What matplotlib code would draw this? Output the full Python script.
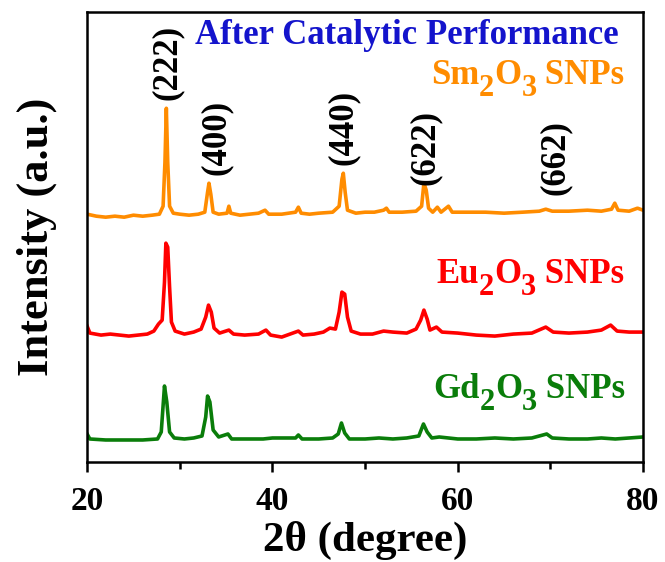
import matplotlib
matplotlib.use("Agg")
import matplotlib.pyplot as plt
from matplotlib.ticker import MultipleLocator

plt.rcParams["font.family"] = ["Liberation Serif", "DejaVu Serif"]
plt.rcParams["font.weight"] = "bold"

# 2theta / intensity (a.u.), curves already offset
sm_x = [20.0, 21.0, 22.0, 23.0, 24.0, 25.0, 26.0, 27.0, 27.8, 28.2, 28.4, 28.55, 28.7, 28.9, 29.3,
        30.0, 31.0, 32.0, 32.7, 33.0, 33.15, 33.35, 33.6, 34.2, 35.1, 35.3, 35.5, 36.5, 37.5,
        38.5, 39.2, 39.6, 41.0, 42.5, 42.8, 43.1, 44.0, 45.0, 46.5, 47.2, 47.5, 47.65, 47.85,
        48.1, 49.0, 50.0, 51.0, 52.0, 52.3, 52.6, 54.0, 55.5, 56.1, 56.35, 56.6, 56.85, 57.3,
        57.8, 58.2, 59.0, 59.4, 61.0, 63.0, 65.0, 67.0, 68.8, 69.5, 70.2, 72.0, 74.0, 75.5,
        76.6, 76.95, 77.3, 78.5, 79.4, 80.0]
sm_y = [248, 246, 245, 246, 245, 247, 246, 247, 248, 256, 300, 354, 300, 256, 249,
        248, 247, 248, 250, 270, 279, 268, 250, 248, 249, 256, 249, 247, 248,
        249, 252, 248, 248, 250, 255, 249, 248, 249, 250, 256, 283, 289, 270,
        252, 249, 250, 250, 252, 254, 250, 250, 251, 256, 279, 272, 254, 250,
        255, 250, 256, 250, 250, 250, 249, 250, 251, 253, 251, 251, 252, 251,
        253, 259, 252, 251, 254, 252]

eu_x = [20.0, 20.3, 21.5, 22.5, 23.5, 24.5, 25.5, 26.5, 27.2, 27.7, 28.1, 28.35, 28.5, 28.7,
        28.9, 29.1, 29.5, 30.5, 31.5, 32.3, 32.8, 33.1, 33.4, 33.7, 34.3, 35.3, 35.8, 37.0,
        38.5, 39.3, 39.8, 41.0, 42.8, 43.3, 44.5, 45.5, 46.2, 46.8, 47.2, 47.5, 47.8, 48.1,
        48.5, 49.5, 50.8, 52.0, 53.0, 54.5, 55.5, 56.0, 56.35, 56.7, 57.0, 57.7, 58.3, 60.0,
        62.0, 64.0, 66.0, 68.0, 69.5, 70.3, 72.0, 74.0, 75.5, 76.5, 77.2, 78.5, 80.0]
eu_y = [136, 129, 127, 128, 127, 126, 127, 128, 131, 138, 142, 180, 219, 215,
        175, 140, 131, 128, 130, 133, 145, 157, 150, 134, 129, 132, 128, 127,
        128, 132, 127, 125, 131, 127, 128, 130, 134, 133, 150, 170, 168, 145,
        131, 128, 128, 131, 130, 129, 133, 142, 152, 143, 132, 135, 130, 129,
        127, 126, 128, 129, 135, 130, 129, 130, 132, 137, 131, 130, 130]

gd_x = [20.0, 20.3, 22.0, 24.0, 26.0, 27.6, 28.0, 28.35, 28.6, 28.9, 29.4, 30.5, 31.5, 32.4,
        32.8, 33.0, 33.25, 33.6, 34.2, 35.2, 35.6, 37.0, 39.0, 40.0, 42.5, 42.8, 43.2, 45.0,
        46.5, 47.1, 47.45, 47.8, 48.3, 50.0, 51.5, 53.0, 54.5, 55.8, 56.3, 56.7, 57.2, 58.0,
        60.0, 62.0, 64.0, 66.0, 68.0, 69.6, 70.2, 72.0, 74.0, 75.5, 77.0, 78.5, 80.0]
gd_y = [28, 23, 22, 22, 22, 23, 30, 76, 60, 30, 24, 23, 24, 26,
        45, 66, 60, 32, 25, 28, 23, 23, 23, 24, 24, 27, 23, 23,
        24, 28, 39, 29, 23, 23, 24, 23, 24, 26, 38, 30, 24, 25,
        23, 23, 24, 23, 24, 28, 24, 23, 23, 24, 23, 24, 25]

hkl_labels = ["(222)", "(400)", "(440)", "(622)", "(662)"]
hkl_x = [28.7, 33.9, 47.6, 56.5, 70.5]
hkl_y = [362, 287, 297, 277, 267]

# sample names: (metal, x of left edge, y of bottom, colour)
samples = [("Sm", 57.1, 370, "#ff8c00"),
           ("Eu", 57.7, 171, "#ff0000"),
           ("Gd", 57.4, 56, "#0a7d0a")]

fig = plt.figure(figsize=(6.65, 5.62), dpi=100)
ax = fig.add_axes([0.131, 0.178, 0.836, 0.8])

ax.plot(sm_x, sm_y, color="#ff8c00", lw=2.6)
ax.plot(eu_x, eu_y, color="#ff0000", lw=2.6)
ax.plot(gd_x, gd_y, color="#0a7d0a", lw=2.6)

for lab, x, y in zip(hkl_labels, hkl_x, hkl_y):
    ax.text(x, y, lab, rotation=90, ha="center", va="bottom", fontsize=25, fontweight="bold")

ax.text(54.5, 427, "After Catalytic Performance", color="#1414cc", fontsize=25,
        fontweight="bold", ha="center", va="center")


# chain text pieces so the subscripts can be big and low like in the original
def formula_label(metal, x, y, col, fs=25, sub_fs=22, drop=8):
    parts = [(metal, fs, 0), ("2", sub_fs, -drop), ("O", fs, drop), ("3", sub_fs, -drop),
             (" SNPs", fs, drop)]
    prev = ax.text(x, y, parts[0][0], color=col, fontsize=fs, fontweight="bold",
                   ha="left", va="bottom")
    for txt, size, dy in parts[1:]:
        prev = ax.annotate(txt, xy=(1, 0), xycoords=prev, xytext=(0, dy),
                           textcoords="offset points", color=col, fontsize=size,
                           fontweight="bold", ha="left", va="bottom")


for metal, x, y, col in samples:
    formula_label(metal, x, y, col)

ax.set_xlim(20, 80)
ax.set_ylim(0, 450)
ax.xaxis.set_major_locator(MultipleLocator(20))
ax.xaxis.set_minor_locator(MultipleLocator(10))
ax.set_yticks([])
ax.tick_params(axis="x", which="both", direction="out", width=1.8, labelsize=24, pad=10)
ax.tick_params(axis="x", which="major", length=7)
ax.tick_params(axis="x", which="minor", length=5)
for s in ax.spines.values():
    s.set_linewidth(1.8)

ax.set_xlabel("2θ (degree)", fontsize=31, fontweight="bold", labelpad=3)
ax.set_ylabel("Intensity (a.u.)", fontsize=32, fontweight="bold", labelpad=22)

fig.savefig("out.png", dpi=100)
